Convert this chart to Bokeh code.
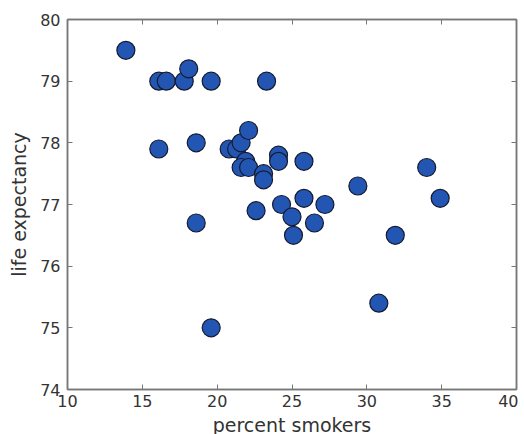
from bokeh.plotting import figure
from bokeh.models import LinearAxis, Range1d, FixedTicker
from bokeh.embed import file_html
from bokeh.resources import INLINE

smokers = [13.9, 16.1, 16.6, 17.8, 18.1, 19.6, 23.3, 16.1, 18.6, 18.6, 19.6,
           20.8, 21.3, 21.6, 22.1, 21.9, 21.6, 22.1, 23.1, 23.1, 22.6, 24.1,
           24.1, 24.3, 25.0, 25.1, 25.8, 25.8, 26.5, 27.2, 29.4, 30.8, 31.9,
           34.0, 34.9]
life = [79.5, 79.0, 79.0, 79.0, 79.2, 79.0, 79.0, 77.9, 78.0, 76.7, 75.0,
        77.9, 77.9, 78.0, 78.2, 77.7, 77.6, 77.6, 77.5, 77.4, 76.9, 77.8,
        77.7, 77.0, 76.8, 76.5, 77.7, 77.1, 76.7, 77.0, 77.3, 75.4, 76.5,
        77.6, 77.1]
x_ticks = [10, 15, 20, 25, 30, 35, 40]
y_ticks = [74, 75, 76, 77, 78, 79, 80]

FONT = "DejaVu Sans"
TXT = "#333333"
EDGE = "#777777"

p = figure(frame_width=449, frame_height=370, output_backend="svg",
           toolbar_location=None,
           x_range=Range1d(10, 40), y_range=Range1d(74, 80),
           min_border_left=67, min_border_top=19, min_border_right=2,
           min_border_bottom=30)
p.grid.visible = False
p.outline_line_color = EDGE
p.outline_line_width = 1.5

p.scatter(smokers, life, size=18, fill_color="#2356b3", line_color="#151a30",
          line_width=1.2)

def style(ax, ticks, labels=True):
    ax.ticker = FixedTicker(ticks=ticks)
    ax.major_tick_in = 5
    ax.major_tick_out = 0
    ax.minor_tick_in = 0
    ax.minor_tick_out = 0
    ax.axis_line_color = EDGE
    ax.axis_line_width = 1.5
    ax.major_tick_line_color = EDGE
    ax.major_label_text_font = FONT
    ax.major_label_text_font_size = "16px"
    ax.major_label_text_color = TXT
    ax.axis_label_text_font = FONT
    ax.axis_label_text_font_size = "19px"
    ax.axis_label_text_font_style = "normal"
    ax.axis_label_text_color = TXT
    if not labels:
        ax.major_label_text_font_size = "0px"
        ax.major_label_text_alpha = 0

p.xaxis.axis_label = "percent smokers"
p.yaxis.axis_label = "life expectancy"
p.add_layout(LinearAxis(), "above")
p.add_layout(LinearAxis(), "right")
for ax in p.below:
    style(ax, x_ticks)
    ax.major_label_standoff = 5
    ax.axis_label_standoff = 4
for ax in p.left:
    style(ax, y_ticks)
    ax.major_label_standoff = 7
    ax.axis_label_standoff = 7
for ax in p.above:
    style(ax, x_ticks, labels=False)
    ax.major_label_standoff = 0
for ax in p.right:
    style(ax, y_ticks, labels=False)
    ax.major_label_standoff = 0

open("out.html", "w").write(file_html(p, INLINE))
